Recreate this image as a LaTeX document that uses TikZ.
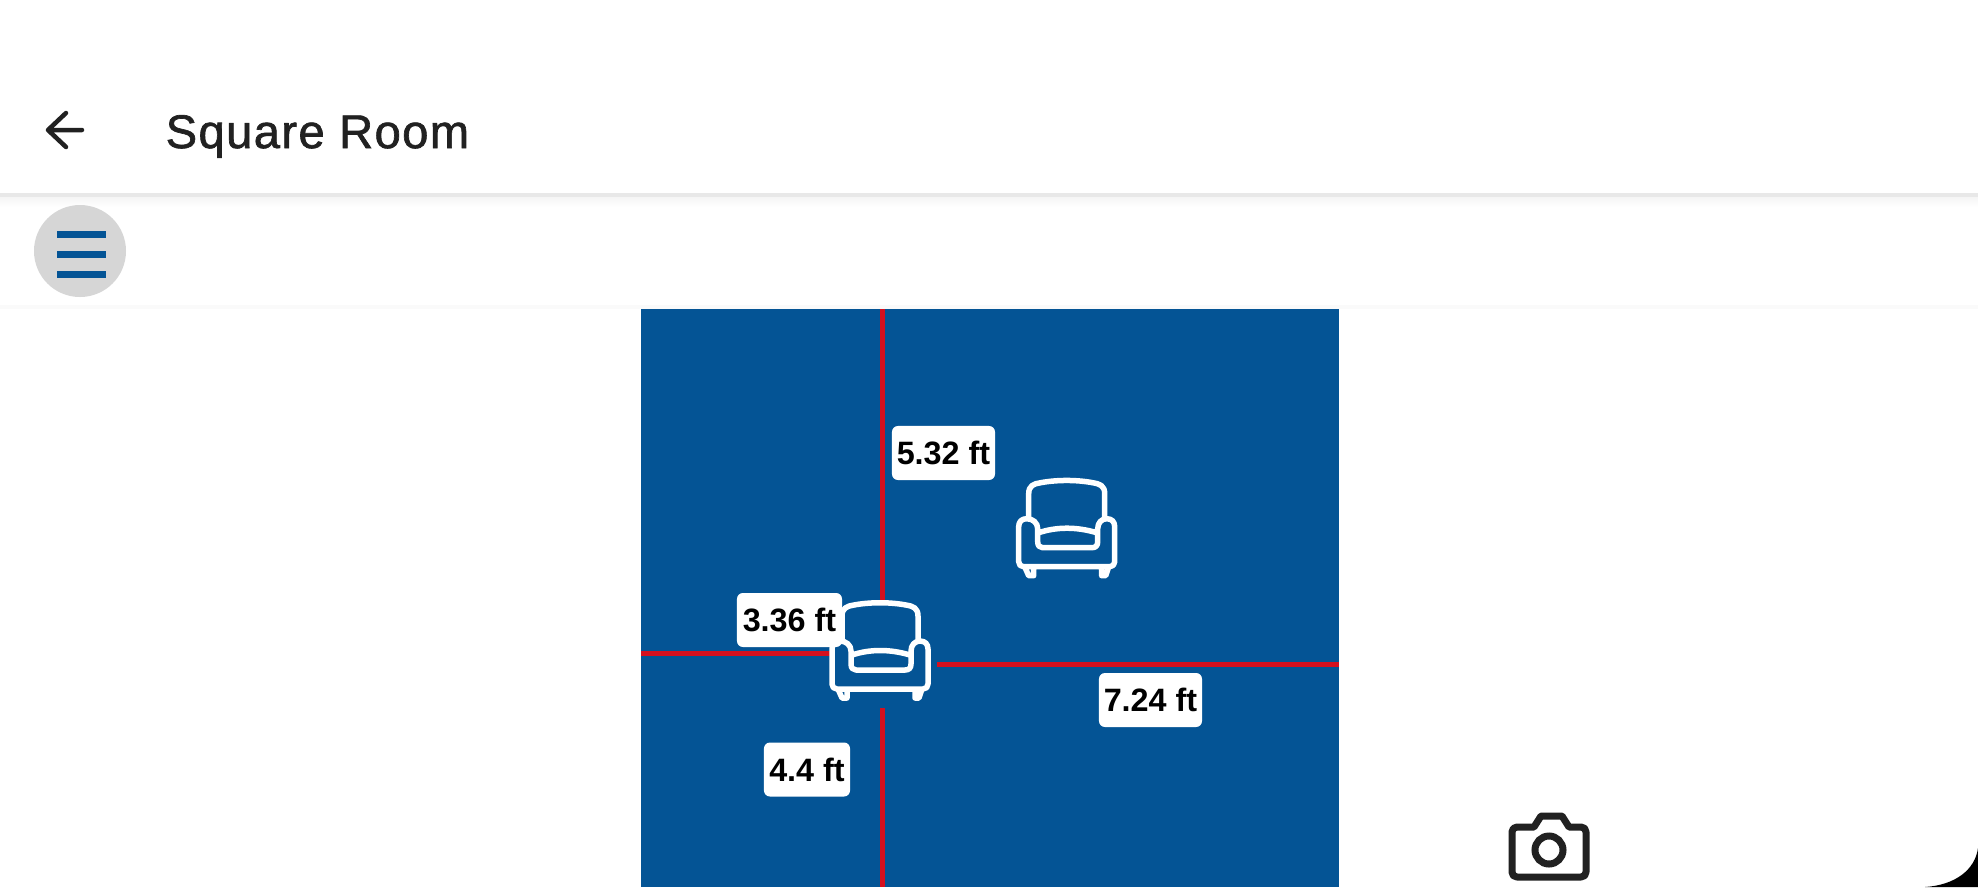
\documentclass[tikz,border=0pt]{standalone}
\usepackage{fontspec}
\setmainfont{Liberation Sans}
\newfontface\titlefont{Liberation Sans}[FakeBold=1.4,LetterSpace=3]
\definecolor{roomblue}{HTML}{045495}
\definecolor{linered}{HTML}{D5101F}
\definecolor{icondark}{HTML}{212121}
\tikzset{
  dimlabel/.style={fill=white, rounded corners=.06cm, inner sep=0pt, minimum height=.54cm, font=\fontsize{9.2pt}{10pt}\selectfont\bfseries},
  redline/.style={draw=linered, line width=.05cm},
  armchair/.pic={
    \draw[white, line width=.055cm, line join=round, line cap=round]
      (-38,-9) -- (-38,-33) .. controls (-38,-41) and (-33,-43) .. (-26,-44)
      .. controls (-10,-47) and (10,-47) .. (26,-44)
      .. controls (33,-43) and (38,-41) .. (38,-33) -- (38,-9)
      (-43,40) .. controls (-46,40) and (-48,38) .. (-48,35) -- (-48,0)
      .. controls (-48,-5) and (-45,-8) .. (-40,-8)
      .. controls (-34,-8) and (-29,-4) .. (-29,2) -- (-29,15)
      .. controls (-29,19) and (-27,21) .. (-24,21) -- (25,21)
      .. controls (29,21) and (31,19) .. (31,15) -- (31,2)
      .. controls (31,-4) and (35,-8) .. (40,-8)
      .. controls (45,-8) and (48,-5) .. (48,0) -- (48,35)
      .. controls (48,38) and (46,40) .. (43,40) -- cycle
      (-28,6) .. controls (-10,0) and (10,0) .. (30,6)
      (-42,40) -- (-38,49) -- (-33,49) -- (-33,41)
      (35,41) -- (35,49) -- (39,49) -- (42,40);
  }
}

\begin{document}
\begin{tikzpicture}
  [x=.01cm, y=-.01cm]
  \useasboundingbox (0,0) rectangle (1978,887);
  \fill[white] (0,0) rectangle (1978,887);

  % top bars
  \fill[black!9] (0,193) rectangle (1978,197);
  \shade[top color=black!4, bottom color=white] (0,197) rectangle (1978,207);
  \fill[black!2] (0,305) rectangle (1978,309);
  \draw[icondark, line width=.045cm, line cap=round, line join=round]
    (66,113) -- (48,130) -- (66,147) (48,130) -- (82,130);
  \node[anchor=base west, inner sep=0pt, text=icondark, font=\fontsize{13.4pt}{16pt}\titlefont] (title) at (165,148) {Square Room};

  % menu button
  \fill[black!16] (80,251) circle (46);
  \foreach \y in {234,254,274}
    \fill[roomblue] (57,\y-3.5) rectangle (106,\y+3.5);

  % room
  \fill[roomblue] (641,309) rectangle (1339,887);
  \draw[redline] (882,309) -- (882,602);
  \draw[redline] (882,708) -- (882,887);
  \draw[redline] (641,653) -- (830,653);
  \draw[redline] (937,664) -- (1339,664);

  \node[dimlabel, minimum width=1.03cm] (len1) at (943.5,453) {5.32 ft};
  \node[dimlabel, minimum width=1.05cm] (len2) at (789.5,620) {3.36 ft};
  \node[dimlabel, minimum width=1.03cm] (len3) at (1150.5,700) {7.24 ft};
  \node[dimlabel, minimum width=.86cm] (len4) at (807,769.5) {4.4 ft};

  \pic at (1066.7,526.7) {armchair};
  \pic at (880,649) {armchair};

  % camera
  \draw[icondark, line width=.07cm, line join=round]
    (1517,827) -- (1534,827) -- (1541,816) -- (1562,816) -- (1569,827) -- (1581,827)
    .. controls (1584,827) and (1586,829) .. (1586,832) -- (1586,872)
    .. controls (1586,875) and (1584,877) .. (1581,877) -- (1517,877)
    .. controls (1514,877) and (1512,875) .. (1512,872) -- (1512,832)
    .. controls (1512,829) and (1514,827) .. (1517,827) -- cycle;
  \draw[icondark, line width=.07cm] (1549,850) circle (14);

  % screen corner
  \fill[black] (1925,887) .. controls (1955,885) and (1975,870) .. (1978,848) -- (1978,887) -- cycle;
\end{tikzpicture}
\end{document}
